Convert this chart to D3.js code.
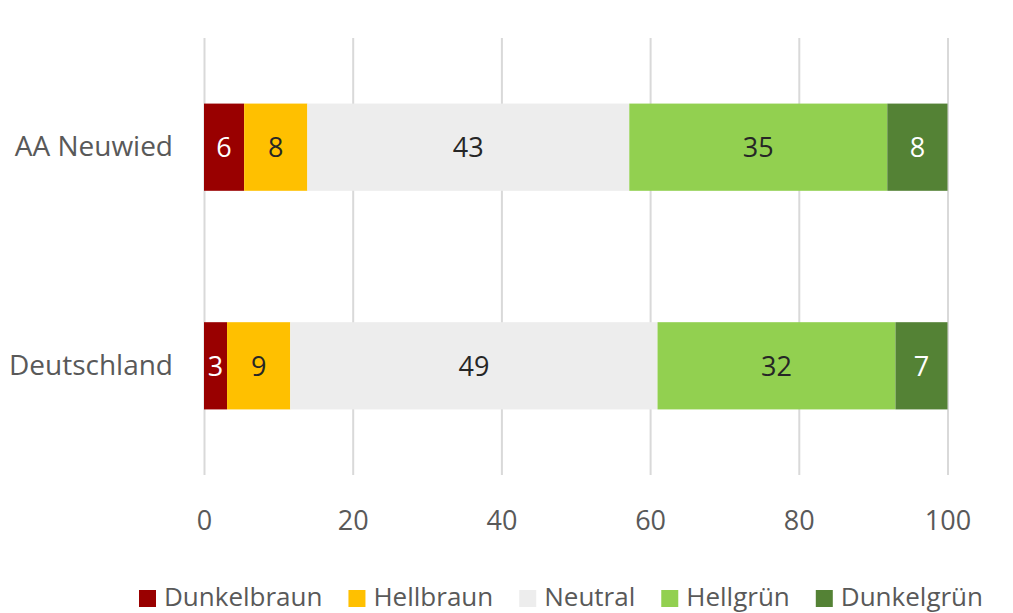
<!DOCTYPE html>
<html>
<head>
<meta charset="utf-8">
<script src="https://cdn.jsdelivr.net/npm/d3@7"></script>
<style>
  body { margin: 0; background: #fff; }
  svg { display: block; font-family: "Open Sans", sans-serif; }
</style>
</head>
<body>
<div id="chart"></div>
<script>
// categories and series
const regions = ["AA Neuwied", "Deutschland"];
const series = ["Dunkelbraun", "Hellbraun", "Neutral", "Hellgrün", "Dunkelgrün"];
const colors = ["#990000", "#ffc000", "#ededed", "#92d050", "#548235"];
// segment widths (percent) per region, in series order
const valuesNeuwied = [5.4, 8.5, 43.3, 34.7, 8.1];
const valuesDeutschland = [3.1, 8.5, 49.4, 32.0, 7.0];
// data labels as printed on the bars
const labelsNeuwied = [6, 8, 43, 35, 8];
const labelsDeutschland = [3, 9, 49, 32, 7];
const xTicks = [0, 20, 40, 60, 80, 100];

const W = 1013, H = 613;
const plot = { left: 204, right: 947.5, top: 38, bottom: 475 };

const svg = d3.select("#chart")
    .append("svg")
    .attr("width", W)
    .attr("height", H);

const x = d3.scaleLinear()
    .domain([0, 100])
    .range([plot.left, plot.right]);

const y = d3.scaleBand()
    .domain(regions)
    .range([plot.top, plot.bottom])
    .paddingInner(0.601)
    .paddingOuter(0.3);

// gridlines + tick labels
const xAxis = svg.append("g")
    .attr("transform", `translate(0, ${plot.bottom})`)
    .call(d3.axisBottom(x)
        .tickValues(xTicks)
        .tickSize(-(plot.bottom - plot.top))
        .tickPadding(36));
xAxis.select(".domain").remove();
xAxis.selectAll(".tick line")
    .attr("stroke", "#d9d9d9")
    .attr("stroke-width", 2);
xAxis.selectAll(".tick text")
    .attr("fill", "#595959")
    .style("font-size", "27px")
    .style("font-family", "Open Sans, sans-serif");

// stack rows
const rows = [
    { region: regions[0], values: valuesNeuwied, labels: labelsNeuwied },
    { region: regions[1], values: valuesDeutschland, labels: labelsDeutschland }
];

rows.forEach(row => {
    let acc = 0;
    const segs = row.values.map((v, i) => {
        const s = { i: i, x0: acc, x1: acc + v, label: row.labels[i] };
        acc += v;
        return s;
    });

    const g = svg.append("g");
    g.selectAll("rect")
        .data(segs)
        .join("rect")
        .attr("x", d => x(d.x0))
        .attr("width", d => x(d.x1) - x(d.x0))
        .attr("y", y(row.region))
        .attr("height", y.bandwidth())
        .attr("fill", d => colors[d.i]);

    g.selectAll("text")
        .data(segs)
        .join("text")
        .attr("x", d => (x(d.x0) + x(d.x1)) / 2)
        .attr("y", y(row.region) + y.bandwidth() / 2)
        .attr("dy", "0.36em")
        .attr("text-anchor", "middle")
        .style("font-size", "27px")
        .attr("fill", d => (d.i === 0 || d.i === 4) ? "#ffffff" : "#262626")
        .text(d => d.label);
});

// category labels
svg.append("g")
    .selectAll("text")
    .data(regions)
    .join("text")
    .attr("x", 173)
    .attr("y", d => y(d) + y.bandwidth() / 2)
    .attr("dy", "0.33em")
    .attr("text-anchor", "end")
    .attr("fill", "#595959")
    .style("font-size", "28px")
    .text(d => d);

// legend
const legend = svg.append("g");
let lx = 139;
series.forEach((name, i) => {
    legend.append("rect")
        .attr("x", lx)
        .attr("y", 590)
        .attr("width", 17)
        .attr("height", 17)
        .attr("fill", colors[i]);
    const t = legend.append("text")
        .attr("x", lx + 25)
        .attr("y", 606)
        .attr("fill", "#595959")
        .style("font-size", "26px")
        .text(name);
    lx += 25 + t.node().getComputedTextLength() + 26;
});
</script>
</body>
</html>
